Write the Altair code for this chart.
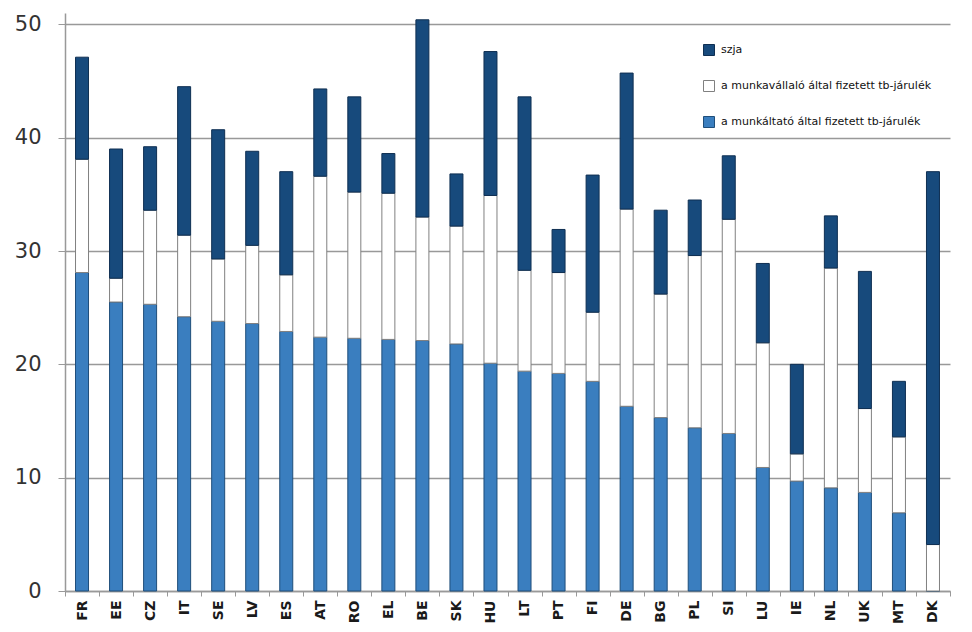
import altair as alt
import pandas as pd

countries = ["FR", "EE", "CZ", "IT", "SE", "LV", "ES", "AT", "RO", "EL", "BE", "SK", "HU",
             "LT", "PT", "FI", "DE", "BG", "PL", "SI", "LU", "IE", "NL", "UK", "MT", "DK"]
employer = [28.1, 25.5, 25.3, 24.2, 23.8, 23.6, 22.9, 22.4, 22.3, 22.2, 22.1, 21.8, 20.1,
            19.4, 19.2, 18.5, 16.3, 15.3, 14.4, 13.9, 10.9, 9.7, 9.1, 8.7, 6.9, 0.0]
employee = [10.0, 2.1, 8.3, 7.2, 5.5, 6.9, 5.0, 14.2, 12.9, 12.9, 10.9, 10.4, 14.8,
            8.9, 8.9, 6.1, 17.4, 10.9, 15.2, 18.9, 11.0, 2.4, 19.4, 7.4, 6.7, 4.1]
szja = [9.0, 11.4, 5.6, 13.1, 11.4, 8.3, 9.1, 7.7, 8.4, 3.5, 17.4, 4.6, 12.7,
        15.3, 3.8, 12.1, 12.0, 7.4, 4.9, 5.6, 7.0, 7.9, 4.6, 12.1, 4.9, 32.9]

s_szja = "szja"
s_employee = "a munkavállaló által fizetett tb-járulék"
s_employer = "a munkáltató által fizetett tb-járulék"

rows = []
for i, c in enumerate(countries):
    rows.append({"country": c, "series": s_employer, "value": employer[i], "ord": 1})
    rows.append({"country": c, "series": s_employee, "value": employee[i], "ord": 2})
    rows.append({"country": c, "series": s_szja, "value": szja[i], "ord": 3})
df = pd.DataFrame(rows)

domain = [s_szja, s_employee, s_employer]
fills = ["#174a7c", "#ffffff", "#3a7ebf"]
strokes = ["#0f2f52", "#808080", "#1f4e7a"]

legend_opts = dict(title=None, orient="none", legendX=638, legendY=31,
                   symbolType="square", symbolSize=121,
                   labelFont="DejaVu Sans", labelFontSize=11,
                   labelColor="#111111", rowPadding=20,
                   labelOffset=6, padding=0, symbolStrokeWidth=1,
                   labelLimit=400)

chart = alt.Chart(df).mark_bar(width=13, strokeWidth=1).encode(
    x=alt.X("country:N", sort=countries, title=None,
            scale=alt.Scale(paddingInner=0, paddingOuter=0),
            axis=alt.Axis(labelAngle=-90, tickBand="extent", labelFont="DejaVu Sans",
                          labelFontSize=14, labelFontWeight="bold", labelColor="#1a1a1a",
                          labelPadding=4, tickSize=5, tickColor="#999999",
                          domainColor="#999999", domainWidth=1.5,
                          labelBaseline="middle", labelAlign="right")),
    y=alt.Y("value:Q", stack="zero", title=None,
            scale=alt.Scale(domain=[0, 51], nice=False),
            axis=alt.Axis(values=[0, 10, 20, 30, 40, 50], labelFont="DejaVu Sans",
                          labelFontSize=21, labelColor="#333333", labelPadding=17,
                          tickSize=7, tickColor="#999999", domainColor="#999999",
                          domainWidth=1.5, gridColor="#999999", gridWidth=1.5)),
    color=alt.Color("series:N", scale=alt.Scale(domain=domain, range=fills),
                    legend=alt.Legend(**legend_opts)),
    stroke=alt.Stroke("series:N", scale=alt.Scale(domain=domain, range=strokes),
                      legend=alt.Legend(**legend_opts)),
    order=alt.Order("ord:Q", sort="ascending"),
).properties(
    width=885, height=578,
    padding={"left": 6, "top": 5, "right": 5, "bottom": 0},
).configure_view(stroke=None).configure_axisX(grid=False)

chart.save("out.html", embed_options={"renderer": "svg", "actions": False})
